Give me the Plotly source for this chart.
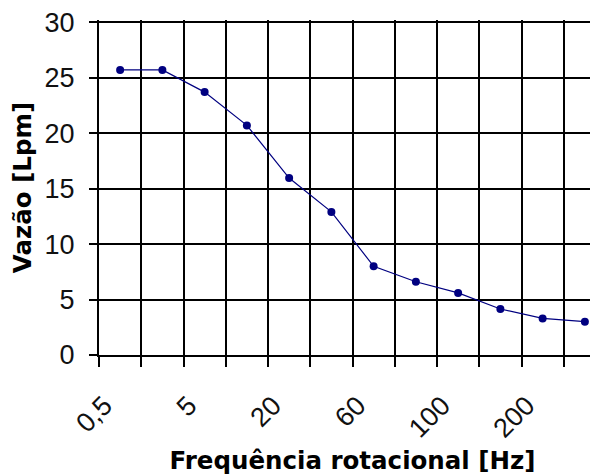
import plotly.graph_objects as go

# Data
categorias = ["0,5", "1", "5", "10", "20", "40", "60", "80", "100", "150", "200", "250"]
vazao_lpm = [25.7, 25.7, 23.7, 20.7, 15.95, 12.9, 8.0, 6.6, 5.6, 4.15, 3.3, 3.0]
rotulos_visiveis = ["0,5", "", "5", "", "20", "", "60", "", "100", "", "200", ""]
y_ticks = [0, 5, 10, 15, 20, 25, 30]

NBSP = "\u00a0"
ticktext = [t + NBSP * 3 if t else "" for t in rotulos_visiveis]

fig = go.Figure()
fig.add_trace(go.Scatter(
    x=categorias,
    y=vazao_lpm,
    mode="lines+markers",
    line=dict(color="#000080", width=1.2),
    marker=dict(color="#000080", size=8, symbol="circle"),
    showlegend=False,
))

fig.update_layout(
    width=598,
    height=474,
    margin=dict(l=91, r=0, t=12, b=127, autoexpand=False),
    paper_bgcolor="white",
    plot_bgcolor="white",
    font=dict(family="Liberation Sans, Arial, sans-serif", color="black"),
)

fig.update_xaxes(
    type="category",
    categoryorder="array",
    categoryarray=categorias,
    range=[-0.5, 11.5],
    tickmode="array",
    tickvals=categorias,
    ticktext=ticktext,
    tickson="boundaries",
    ticks="outside",
    ticklen=10,
    tickwidth=2,
    tickcolor="black",
    showgrid=True,
    gridcolor="black",
    gridwidth=2,
    showline=True,
    linecolor="black",
    linewidth=2,
    tickangle=-45,
    ticklabelstandoff=6,
    ticklabeloverflow="allow",
    automargin=False,
    tickfont=dict(family="Liberation Sans, Arial, sans-serif", size=27, color="#111"),
    title=dict(
        text="<b>Frequência rotacional [Hz]</b>",
        font=dict(family="DejaVu Sans, sans-serif", size=24.5, color="black"),
        standoff=9,
    ),
    fixedrange=True,
)

fig.update_yaxes(
    range=[0, 30.2],
    tickmode="array",
    tickvals=y_ticks,
    ticks="outside",
    ticklen=8,
    tickwidth=2,
    tickcolor="black",
    showgrid=True,
    gridcolor="black",
    gridwidth=2,
    showline=True,
    linecolor="black",
    linewidth=2,
    zeroline=False,
    ticklabelstandoff=9,
    ticklabeloverflow="allow",
    automargin=False,
    tickfont=dict(family="Liberation Sans, Arial, sans-serif", size=27, color="#111"),
    title=dict(
        text="<b>Vazão [Lpm]</b>",
        font=dict(family="DejaVu Sans, sans-serif", size=24.5, color="black"),
        standoff=10,
    ),
    fixedrange=True,
)

fig.write_html("out.html")
